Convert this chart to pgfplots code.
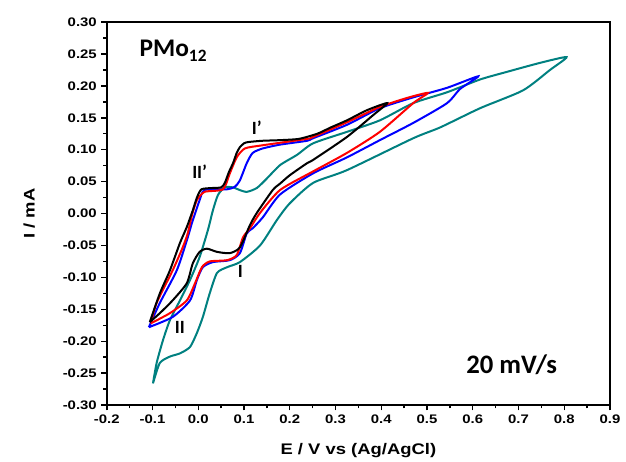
\documentclass[border=0pt]{standalone}
\usepackage{fontspec}
\setmainfont{Liberation Sans}
\newfontfamily\widesans[FakeStretch=1.2]{Liberation Sans}
\newfontfamily\calfont{Carlito}
\usepackage{pgfplots}
\pgfplotsset{compat=1.18}
\usepackage{pgfplotstable}
\definecolor{cvteal}{RGB}{0,128,128}

% scan at 0.4 V
\pgfplotstableread{
x y
-0.106 -0.170
-0.084 -0.125
-0.062 -0.089
-0.040 -0.046
-0.025 -0.021
-0.012 0.005
-0.003 0.025
0.007 0.038
0.030 0.040
0.050 0.041
0.058 0.048
0.067 0.065
0.076 0.079
0.084 0.095
0.091 0.104
0.100 0.110
0.109 0.112
0.140 0.114
0.179 0.115
0.220 0.117
0.260 0.125
0.290 0.135
0.325 0.146
0.369 0.162
0.413 0.173
0.382 0.154
0.325 0.120
0.251 0.084
0.238 0.079
0.200 0.060
0.179 0.047
0.163 0.037
0.128 0.001
0.113 -0.018
0.091 -0.053
0.069 -0.062
0.041 -0.060
0.019 -0.055
0.003 -0.060
-0.012 -0.078
-0.025 -0.109
-0.056 -0.136
-0.084 -0.156
-0.106 -0.170
}\blackcv

% scan at 0.5 V
\pgfplotstableread{
x y
-0.104 -0.172
-0.091 -0.140
-0.056 -0.089
-0.034 -0.053
-0.023 -0.031
-0.014 -0.003
-0.003 0.021
0.014 0.034
0.054 0.038
0.069 0.063
0.084 0.088
0.102 0.102
0.141 0.107
0.238 0.117
0.251 0.120
0.325 0.143
0.397 0.167
0.456 0.181
0.502 0.189
0.470 0.173
0.397 0.128
0.325 0.095
0.251 0.066
0.179 0.037
0.135 0.001
0.113 -0.023
0.098 -0.037
0.084 -0.065
0.063 -0.073
0.025 -0.075
0.008 -0.084
-0.007 -0.109
-0.025 -0.136
-0.062 -0.156
-0.104 -0.172
}\redcv

% scan at 0.6 V
\pgfplotstableread{
x y
-0.108 -0.178
-0.084 -0.140
-0.047 -0.089
-0.025 -0.042
-0.014 -0.015
-0.007 0.000
0.003 0.021
0.014 0.037
0.063 0.038
0.080 0.042
0.091 0.052
0.106 0.079
0.119 0.095
0.141 0.102
0.179 0.108
0.238 0.114
0.251 0.118
0.325 0.139
0.397 0.165
0.470 0.182
0.544 0.197
0.612 0.215
0.572 0.195
0.544 0.173
0.470 0.142
0.397 0.115
0.325 0.088
0.251 0.063
0.179 0.030
0.141 -0.006
0.119 -0.023
0.106 -0.031
0.091 -0.062
0.069 -0.073
0.032 -0.076
0.010 -0.084
-0.003 -0.104
-0.018 -0.136
-0.056 -0.162
-0.108 -0.178
}\bluecv

% scan at 0.8 V
\pgfplotstableread{
x y
-0.099 -0.266
-0.091 -0.234
-0.077 -0.198
-0.062 -0.167
-0.040 -0.136
-0.018 -0.104
0.003 -0.068
0.021 -0.026
0.032 0.005
0.043 0.029
0.058 0.041
0.076 0.041
0.090 0.037
0.106 0.034
0.128 0.040
0.150 0.055
0.179 0.076
0.216 0.092
0.251 0.110
0.325 0.128
0.397 0.146
0.470 0.173
0.544 0.190
0.616 0.210
0.675 0.222
0.747 0.236
0.805 0.245
0.769 0.225
0.710 0.193
0.616 0.165
0.529 0.135
0.470 0.118
0.325 0.068
0.251 0.048
0.200 0.016
0.172 -0.010
0.135 -0.050
0.091 -0.076
0.063 -0.084
0.041 -0.093
0.025 -0.125
0.010 -0.162
-0.003 -0.187
-0.018 -0.209
-0.040 -0.219
-0.062 -0.224
-0.084 -0.234
-0.099 -0.266
}\tealcv

\begin{document}
\begin{tikzpicture}
\begin{axis}[
    scale only axis,
    width=377pt, height=287pt,
    xmin=-0.2, xmax=0.9, ymin=-0.30, ymax=0.30,
    xtick={-0.2,-0.1,...,0.91},
    ytick={-0.30,-0.25,...,0.31},
    minor x tick num=1, minor y tick num=1,
    xtick pos=bottom, ytick pos=left,
    tick align=outside,
    major tick length=4pt, minor tick length=2.5pt,
    every tick/.style={black, line width=1.1pt},
    axis line style={line width=1.6pt},
    /pgf/number format/assume math mode=true,
    xticklabel style={/pgf/number format/.cd, fixed, fixed zerofill, precision=1},
    yticklabel style={/pgf/number format/.cd, fixed, fixed zerofill, precision=2},
    tick label style={font=\widesans\bfseries\fontsize{9.3}{10}\selectfont},
    label style={font=\widesans\bfseries\fontsize{11.5}{13}\selectfont},
    xlabel={E / V vs (Ag/AgCl)},
    ylabel={I / mA},
    xlabel style={yshift=-8pt},
    ylabel style={yshift=14pt},
    every axis plot/.append style={line width=1.5pt, no marks, smooth, tension=0.4},
]
\addplot[cvteal] table {\tealcv};
\addplot[blue] table {\bluecv};
\addplot[red] table {\redcv};
\addplot[black] table {\blackcv};
\node[font=\calfont\bfseries\fontsize{19}{21}\selectfont] at (axis cs:-0.055,0.255)
  {PMo\raisebox{-0.45ex}{\fontsize{13}{14}\selectfont 12}};
\node[font=\calfont\bfseries\fontsize{20}{22}\selectfont] at (axis cs:0.685,-0.237) {20 mV/s};
\node[font=\calfont\bfseries\fontsize{14}{15}\selectfont] at (axis cs:0.128,0.134) {I’};
\node[font=\calfont\bfseries\fontsize{14}{15}\selectfont] at (axis cs:0.003,0.065) {II’};
\node[font=\calfont\bfseries\fontsize{14}{15}\selectfont] at (axis cs:0.092,-0.090) {I};
\node[font=\calfont\bfseries\fontsize{14}{15}\selectfont] at (axis cs:-0.040,-0.178) {II};
\end{axis}
\pgfresetboundingbox
\useasboundingbox ([xshift=-80pt,yshift=-42pt]current axis.south west) rectangle ([xshift=12pt,yshift=16.5pt]current axis.north east);
\end{tikzpicture}
\end{document}
